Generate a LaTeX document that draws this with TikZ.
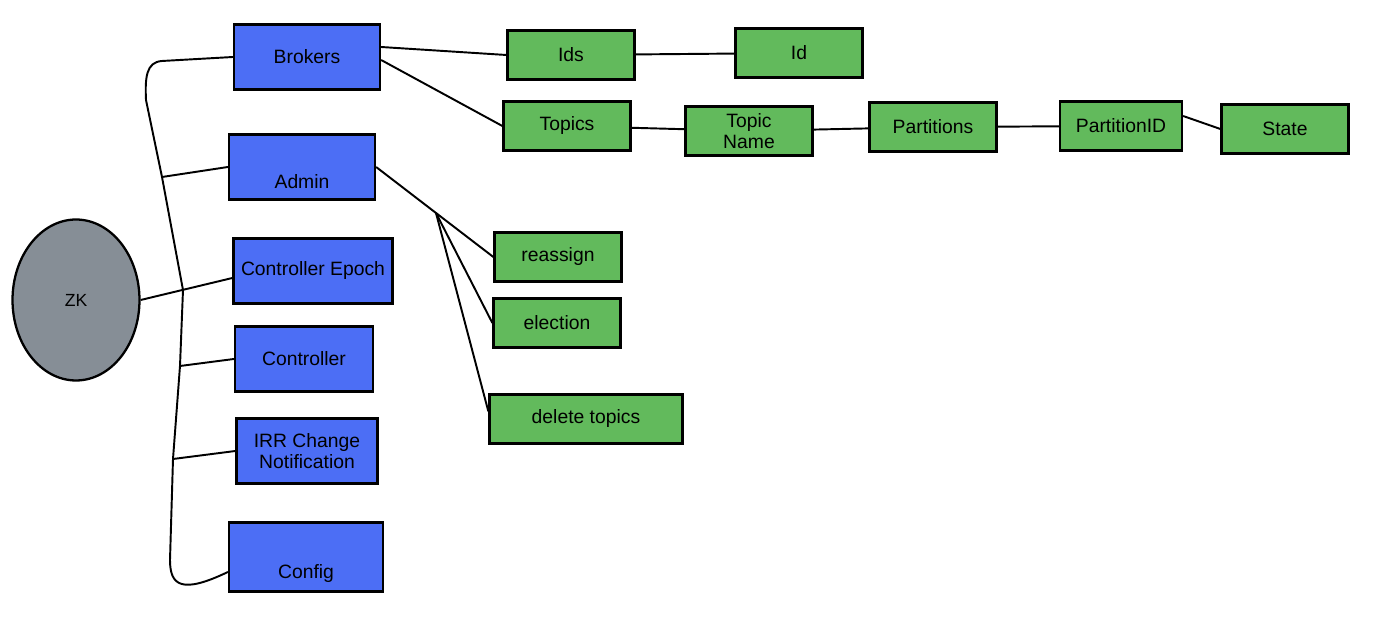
\documentclass[tikz,border=0pt]{standalone}
\usepackage{fontspec}
\setmainfont{Liberation Sans}
\usetikzlibrary{shapes.geometric}
\definecolor{zkgray}{HTML}{868E96}
\definecolor{znblue}{HTML}{4C6EF5}
\definecolor{znleaf}{HTML}{62BA5C}
\tikzset{
  znode/.style={draw, line width=1.3pt, fill=znblue, minimum width=2.92cm,
                minimum height=1.3cm, align=center, inner sep=1pt,
                font=\fontsize{11}{12}\selectfont},
  lowtxt/.style={text height=0.95cm, text depth=0.1cm},
  leaf/.style={draw, line width=1.3pt, fill=znleaf, minimum width=2.54cm,
               minimum height=0.98cm, align=center, inner sep=1pt,
               font=\fontsize{11}{12}\selectfont},
  link/.style={line width=1.1pt},
}

\begin{document}
\begin{tikzpicture}[x=0.02cm, y=-0.02cm]
  \useasboundingbox (0,0) rectangle (1394,634);

  % Root
  \node[ellipse, draw, line width=1.3pt, fill=zkgray, minimum width=2.54cm,
        minimum height=3.22cm, font=\fontsize{10}{12}\selectfont] (zk) at (76,300) {ZK};

  % First level
  \node[znode]                          (brokers) at (307,57)  {Brokers};
  \node[znode, lowtxt]                  (admin)   at (302,167) {Admin};
  \node[znode, minimum width=3.18cm]    (cepoch)  at (313,271) {Controller Epoch};
  \node[znode, minimum width=2.76cm]    (ctrl)    at (304,359) {Controller};
  \node[znode, minimum width=2.82cm]    (irr)     at (307,451) {IRR Change\\Notification};
  \node[znode, lowtxt, minimum width=3.08cm,
        minimum height=1.38cm]          (config)  at (306,557) {Config};

  % Brokers subtree
  \node[leaf] (ids)    at (571,55)   {Ids};
  \node[leaf] (id)     at (799,53)   {Id};
  \node[leaf] (topics) at (567,126)  {Topics};
  \node[leaf] (tname)  at (749,131)  {Topic\\Name};
  \node[leaf] (parts)  at (933,127)  {Partitions};
  \node[leaf, minimum width=2.44cm] (pid) at (1121,126) {PartitionID};
  \node[leaf] (state)  at (1285,129) {State};

  % Admin subtree
  \node[leaf] (reassign) at (558,257) {reassign};
  \node[leaf] (election) at (557,323) {election};
  \node[leaf, minimum width=3.86cm] (deltop) at (586,419) {delete topics};

  % Trunk
  \coordinate (jadmin) at (162,177);
  \coordinate (jctrl)  at (180,366);
  \coordinate (jirr)   at (173,459);
  \coordinate (afork)  at (436,213);

  \draw[link] (brokers.west) -- (162,61) .. controls (146,62) and (145,78) .. (146,100)
    -- (jadmin) -- (183,290) -- (jctrl) -- (jirr) -- (170,560)
    .. controls (170,586) and (182,594) .. ([yshift=-0.3cm]config.west);
  \draw[link] (jadmin) -- (admin.west);
  \draw[link] (jctrl) -- (ctrl.west);
  \draw[link] (jirr) -- (irr.west);
  \draw[link] (zk.east) -- ([yshift=-0.14cm]cepoch.west);

  % Brokers links
  \draw[link] ([yshift=0.2cm]brokers.east) -- (ids.west);
  \draw[link] ([yshift=-0.06cm]brokers.east) -- (topics.west);
  \draw[link] (ids) -- (id);
  \draw[link] (topics) -- (tname);
  \draw[link] (tname) -- (parts);
  \draw[link] (parts) -- (pid);
  \draw[link] ([yshift=0.2cm]pid.east) -- (state.west);

  % Admin links
  \draw[link] (admin.east) -- (afork) -- (reassign.west);
  \draw[link] (afork) -- (election.west);
  \draw[link] (afork) -- ([yshift=0.15cm]deltop.west);

\end{tikzpicture}
\end{document}
